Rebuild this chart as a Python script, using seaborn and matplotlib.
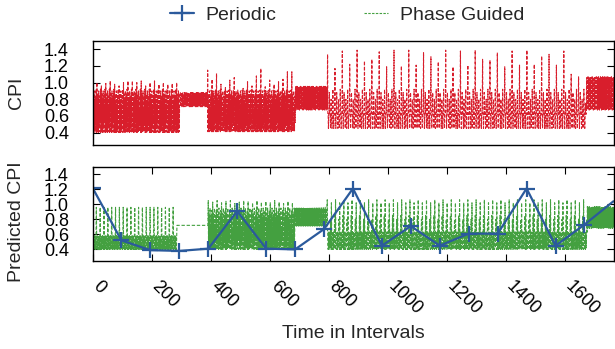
import numpy as np
import pandas as pd
import matplotlib
matplotlib.use("Agg")
import matplotlib.pyplot as plt
import seaborn as sns
from matplotlib.lines import Line2D

# ------------------------------------------------------------------ data
n_intervals = 1767
x_ticks = [0, 200, 400, 600, 800, 1000, 1200, 1400, 1600]
y_ticks = [0.4, 0.6, 0.8, 1.0, 1.2, 1.4]

# measured CPI (top panel): phase boundaries in intervals
cpi_bounds = [0, 296, 390, 688, 796, 1673, 1767]
cpi_p1_peaks = [1.22, 1.00, 0.96, 0.99, 1.02, 0.98, 0.96, 1.00, 1.02, 1.02,
                1.00, 1.02, 0.96, 1.00, 1.02, 0.98, 1.00, 0.98, 0.99, 1.00]
cpi_p1_cycle = [0.40, 0.86, 0.42, 0.78, 0.40, 0.90, 0.46, 0.70, 0.41, 0.84,
                0.52, 0.92, 0.40, 0.75]
cpi_p2_peaks = [0.88, 0.84, 0.88, 0.80, 0.87, 0.76, 0.88, 0.73]
cpi_p2_cycle = [0.88, 0.71, 0.86, 0.73]
cpi_p3_peaks = [1.15, 1.04, 1.11, 0.98, 0.94, 1.03, 1.06, 0.88, 0.93, 1.01,
                0.96, 1.08, 1.17, 0.95, 1.03, 0.98, 1.01, 1.04, 1.13, 1.13]
cpi_p3_cycle = [0.41, 0.86, 0.43, 0.78, 0.41, 0.90, 0.46, 0.70, 0.42, 0.84,
                0.52, 0.91, 0.41, 0.75]
cpi_p4_cycle = [0.95, 0.67, 0.93, 0.70, 0.955, 0.68]
cpi_p5_peaks = [1.34, 1.17, 1.38, 1.22, 1.39, 1.26, 1.28, 1.37, 1.19, 1.39,
                1.20, 1.39, 1.21, 1.36, 1.31, 1.25, 1.39, 1.19, 1.38, 1.21,
                1.39, 1.28, 1.27, 1.36, 1.19, 1.38, 1.21, 1.39, 1.22, 1.32,
                1.34, 1.21, 1.38, 1.10, 1.07]
cpi_p5_cycle = [0.62, 0.62, 0.45, 0.62, 0.62, 0.88, 0.62, 0.62, 0.62, 0.45,
                0.62, 0.80, 0.62, 0.62, 0.45, 0.62, 0.62, 0.92, 0.62, 0.62,
                0.45, 0.62, 0.62, 0.75]
cpi_p6_peaks = [0.93, 0.68, 0.92, 0.70, 0.93, 0.67, 0.93, 0.69]
cpi_p6_cycle = [1.06, 0.67, 1.04, 0.70, 1.07, 0.68]

# phase guided prediction (bottom panel)
pg_bounds = [0, 286, 392, 686, 795, 1676, 1767]
pg_p1_cycle = [0.96, 0.58, 0.40, 0.58, 0.58, 0.40, 0.55, 0.58, 0.40, 0.58,
               0.52, 0.40, 0.58]
pg_p2_cycle = [0.72]
pg_p3_peaks = [1.05, 1.03, 1.05, 1.02, 1.04, 1.05, 1.01, 1.03, 1.05, 1.04,
               1.02, 1.05, 1.03, 1.04, 1.02, 1.05, 1.03, 1.01, 1.04, 1.02]
pg_p3_cycle = [0.40, 0.88, 0.42, 0.80, 0.40, 0.95, 0.46, 0.70, 0.41, 0.85,
               0.52, 0.92, 0.40, 0.75]
pg_p4_cycle = [0.96, 0.72, 0.94, 0.74, 0.95, 0.71]
pg_p5_cycle = [1.06, 0.63, 0.63, 0.40, 0.63, 0.60, 0.40, 0.63, 0.63, 0.42,
               0.63, 0.80, 0.63, 0.40, 1.02, 0.63, 0.63, 0.40, 0.63, 0.58,
               0.40, 0.63, 0.63, 0.41, 0.63, 0.85, 0.63, 0.40]
pg_p6_cycle = [0.97, 0.68, 0.95, 0.70, 0.96, 0.69]

# periodic prediction
periodic_x = [0, 98, 196, 294, 392, 490, 588, 686, 784, 882, 980, 1078,
              1176, 1274, 1372, 1470, 1568, 1666, 1764]
periodic_y = [1.22, 0.52, 0.39, 0.38, 0.41, 0.91, 0.41, 0.40, 0.67, 1.21,
              0.45, 0.71, 0.45, 0.61, 0.61, 1.21, 0.45, 0.73, 1.04]


def build(peaks, cycle, n):
    vals = []
    for p in peaks:
        vals.append(p)
        vals.extend(cycle)
    while len(vals) < n:
        vals.extend(cycle)
    return vals[:n]


def series(bounds, parts):
    vals = []
    for (a, b), (pk, cy) in zip(zip(bounds[:-1], bounds[1:]), parts):
        vals.extend(build(pk, cy, b - a))
    return vals


cpi = series(cpi_bounds, [(cpi_p1_peaks, cpi_p1_cycle), (cpi_p2_peaks, cpi_p2_cycle),
                          (cpi_p3_peaks, cpi_p3_cycle), ([], cpi_p4_cycle),
                          (cpi_p5_peaks, cpi_p5_cycle), (cpi_p6_peaks, cpi_p6_cycle)])
pg = series(pg_bounds, [([], pg_p1_cycle), ([], pg_p2_cycle), (pg_p3_peaks, pg_p3_cycle),
                        ([], pg_p4_cycle), ([], pg_p5_cycle), ([], pg_p6_cycle)])
xs = np.arange(n_intervals)
df_cpi = pd.DataFrame({"t": xs, "cpi": cpi})
df_pg = pd.DataFrame({"t": xs, "cpi": pg})
df_per = pd.DataFrame({"t": periodic_x, "cpi": periodic_y})

# ------------------------------------------------------------------ style
sns.set_theme(style="ticks")
plt.rcParams["font.family"] = ["Liberation Sans", "DejaVu Sans"]

RED = "#d81e2c"
GREEN = "#44a040"
BLUE = "#2b5a9c"

W, H = 615, 349
fig = plt.figure(figsize=(W / 100, H / 100), dpi=100)
left, right = 92.5, 614
ax1 = fig.add_axes([left / W, 1 - 145 / H, (right - left) / W, 104 / H])
ax2 = fig.add_axes([left / W, 1 - 260.7 / H, (right - left) / W, 94 / H])

dash = (0, (3.0, 1.6))
sns.lineplot(data=df_cpi, x="t", y="cpi", ax=ax1, color=RED, linewidth=0.8,
             linestyle=dash, estimator=None, sort=False)
sns.lineplot(data=df_pg, x="t", y="cpi", ax=ax2, color=GREEN, linewidth=0.8,
             linestyle=dash, estimator=None, sort=False)
sns.lineplot(data=df_per, x="t", y="cpi", ax=ax2, color=BLUE, linewidth=1.6,
             marker="+", markersize=11, markeredgewidth=1.6,
             markeredgecolor=BLUE, markevery=list(range(len(periodic_x) - 1)),
             estimator=None, sort=False)

for ax in (ax1, ax2):
    ax.set_xlim(0, 1766)
    ax.set_ylim(0.25, 1.5)
    ax.set_yticks(y_ticks)
    ax.set_yticklabels([f"{v:.1f}" for v in y_ticks], fontsize=13)
    for s in ax.spines.values():
        s.set_color("black")
        s.set_linewidth(1.0)
    ax.tick_params(axis="y", direction="in", length=5, width=0.8, left=True,
                   right=True, pad=17, colors="black")
    ax.set_xlabel("")

ax1.set_xticks(x_ticks)
ax1.tick_params(axis="x", bottom=False, top=False, labelbottom=False)
ax2.set_xticks(x_ticks)
ax2.set_xticklabels([str(v) for v in x_ticks], fontsize=13, rotation=-45,
                    ha="left", va="baseline", rotation_mode="anchor")
ax2.tick_params(axis="x", direction="in", length=5, width=0.8, bottom=True,
                top=True, pad=19, colors="black")

ax1.set_ylabel("CPI", fontsize=14)
ax2.set_ylabel("Predicted CPI", fontsize=14)
ax1.yaxis.set_label_coords((25 - left) / (right - left), 0.5)
ax2.yaxis.set_label_coords((25 - left) / (right - left), 0.42)
ax2.set_xlabel("Time in Intervals", fontsize=14)
ax2.xaxis.set_label_coords(0.5, -(325 - 260.7) / 94)

handles = [Line2D([], [], color=BLUE, linewidth=1.6, marker="+", markersize=11,
                  markeredgewidth=1.6),
           Line2D([], [], color=GREEN, linewidth=0.8, linestyle=(0, (2.2, 1.2)))]
fig.legend(handles, ["Periodic", "Phase Guided"], loc="center",
           bbox_to_anchor=(347 / W, 1 - 15 / H), ncol=2, frameon=False,
           fontsize=14, handlelength=1.25, handletextpad=0.6,
           columnspacing=4.5, borderpad=0)

fig.savefig("out.png", dpi=100)
